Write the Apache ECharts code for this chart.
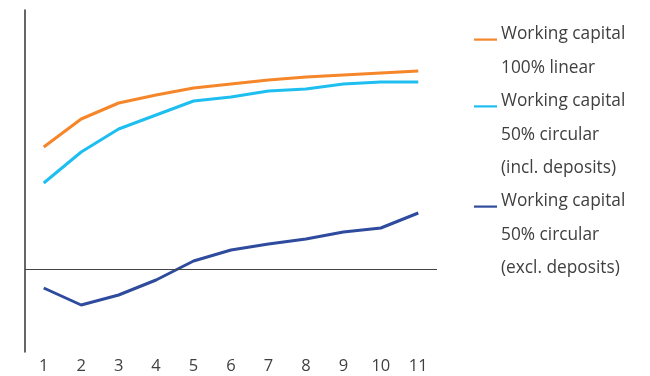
<!DOCTYPE html>
<html>
<head>
<meta charset="utf-8">
<script src="https://cdn.jsdelivr.net/npm/echarts@6/dist/echarts.min.js"></script>
<style>
  html, body { margin: 0; padding: 0; background: #fff; }
  #container { width: 650px; height: 376px; }
</style>
</head>
<body>
<div id="container"></div>
<script>
// categories on the x axis
let years = ['1', '2', '3', '4', '5', '6', '7', '8', '9', '10', '11'];

// series values (arbitrary units, 0 = the zero line)
let linear100 = [122, 150, 166, 174, 181, 185, 189, 192, 194, 196, 198];
let circularIncl = [86, 117, 140, 154, 168, 172, 178, 180, 185, 187, 187];
let circularExcl = [-19, -36, -26, -11, 8, 19, 25, 30, 37, 41, 56];

// legend text, one list of lines per series
let legendLines = [
  ['Working capital', '100% linear'],
  ['Working capital', '50% circular', '(incl. deposits)'],
  ['Working capital', '50% circular', '(excl. deposits)'],
];
let colors = ['#F5862A', '#1EBFF0', '#2E4B9E'];

const font = '"Open Sans", "Noto Sans", sans-serif';
let graph = echarts.init(document.getElementById('container'));

// legend drawn by hand, icon sits on the first line of each block
let legendGraphic = [];
let lineH = 33.4;
let firstLine = [34.5, 101.3, 201.5];
legendLines.forEach((lines, i) => {
  legendGraphic.push({
    type: 'rect',
    shape: { x: 474, y: firstLine[i] + 4, width: 23, height: 2.2 },
    style: { fill: colors[i] },
  });
  legendGraphic.push({
    type: 'text',
    x: 501,
    y: firstLine[i] - lineH / 2,
    style: {
      text: lines.join('\n'),
      font: '17.3px ' + font,
      lineHeight: lineH,
      fill: '#404040',
      verticalAlign: 'top',
    },
  });
});

function lineSeries(name, data, color) {
  return {
    name: name,
    type: 'line',
    data: data,
    symbol: 'none',
    lineStyle: { width: 3, color: color },
    itemStyle: { color: color },
  };
}

let option = {
  animation: false,
  grid: { left: 25, right: 213, top: 10, bottom: 24 },
  xAxis: {
    type: 'category',
    data: years,
    boundaryGap: true,
    axisLine: { show: false },
    axisTick: { show: false },
    axisLabel: { margin: 6, fontSize: 16.5, color: '#404040', fontFamily: font },
  },
  yAxis: {
    type: 'value',
    min: -83,
    max: 259,
    splitLine: { show: false },
    axisLabel: { show: false },
    axisTick: { show: false },
    axisLine: { show: true, onZero: false, lineStyle: { color: '#333', width: 1.5 } },
  },
  graphic: legendGraphic,
  series: [
    lineSeries(legendLines[0].join(' '), linear100, colors[0]),
    lineSeries(legendLines[1].join(' '), circularIncl, colors[1]),
    Object.assign(lineSeries(legendLines[2].join(' '), circularExcl, colors[2]), {
      markLine: {
        silent: true,
        symbol: 'none',
        label: { show: false },
        lineStyle: { color: '#444', width: 1, type: 'solid' },
        data: [{ yAxis: 0 }],
      },
    }),
  ],
};

graph.setOption(option);
</script>
</body>
</html>
